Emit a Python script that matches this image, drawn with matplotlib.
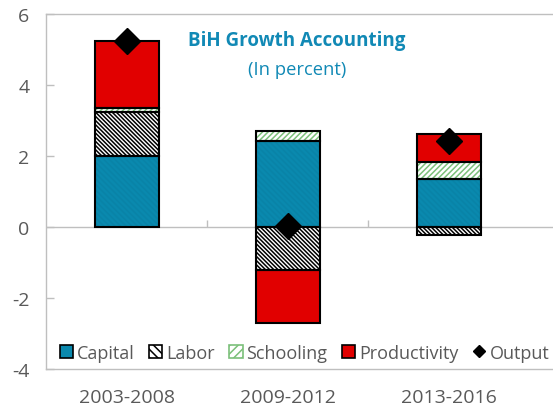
import numpy as np
import matplotlib.pyplot as plt
from matplotlib.patches import Patch
from matplotlib.lines import Line2D

plt.rcParams['font.family'] = ['Open Sans', 'DejaVu Sans']
plt.rcParams['hatch.linewidth'] = 1.1

periods = ['2003-2008', '2009-2012', '2013-2016']
capital = [2.00, 2.43, 1.34]
labor = [1.25, -1.20, -0.22]
schooling = [0.10, 0.28, 0.50]
productivity = [1.90, -1.50, 0.79]
output = [5.25, 0.02, 2.42]

TEAL = '#0a89ae'
RED = '#e10000'
GRID = '#bfbfbf'

fig = plt.figure(figsize=(5.53, 4.10), dpi=100)
ax = fig.add_axes([0.0832, 0.0976, 0.9168, 0.8658])

x = np.arange(len(periods))
w = 0.40

# positive and negative parts stack separately
series = [
    (capital, TEAL, '#0983a7', '\\\\\\\\\\\\'),
    (labor, 'white', 'black', '\\\\\\\\\\\\\\\\'),
    (schooling, 'white', '#7cc07a', '//////'),
    (productivity, RED, RED, None),
]
pos = np.zeros(len(periods))
neg = np.zeros(len(periods))
for vals, fc, hc, hatch in series:
    vals = np.array(vals)
    bottom = np.where(vals >= 0, pos, neg)
    ax.bar(x, vals, w, bottom=bottom, color=fc, edgecolor=hc, hatch=hatch,
           linewidth=0, zorder=2)
    ax.bar(x, vals, w, bottom=bottom, fill=False, edgecolor='black',
           linewidth=1.5, zorder=3)
    pos = np.where(vals >= 0, pos + vals, pos)
    neg = np.where(vals < 0, neg + vals, neg)

ax.plot(x, output, 'D', color='black', markersize=13.5, linestyle='none', zorder=4)

ax.axhline(0, color=GRID, linewidth=1, zorder=1)
ax.vlines([0.5, 1.5], 0, 0.2, color=GRID, linewidth=1, zorder=1)

ax.set_ylim(-4, 6)
ax.set_xlim(-0.503, 2.646)
ax.set_yticks([-4, -2, 0, 2, 4, 6])
ax.set_yticklabels(['-4', '-2', '0', '2', '4', '6'])
ax.set_xticks(x)
ax.set_xticklabels(periods)
ax.tick_params(axis='x', length=0, pad=14, labelsize=14, labelcolor='#595959')
ax.tick_params(axis='y', direction='in', length=6, width=1, color=GRID, pad=12,
               labelsize=14, labelcolor='#595959')

for side in ['top', 'left', 'bottom']:
    ax.spines[side].set_color(GRID)
    ax.spines[side].set_linewidth(1)
ax.spines['right'].set_visible(False)

ax.text(0.495, 0.928, 'BiH Growth Accounting', transform=ax.transAxes,
        ha='center', va='center', fontsize=13.5, fontweight='bold', color='#1189b5')
ax.text(0.495, 0.845, '(In percent)', transform=ax.transAxes,
        ha='center', va='center', fontsize=13.2, color='#1189b5')

handles = [
    Patch(facecolor=TEAL, edgecolor='black', linewidth=1.2),
    Patch(facecolor='white', edgecolor='black', hatch='\\\\\\\\', linewidth=1.2),
    Patch(facecolor='white', edgecolor='#7cc07a', hatch='////', linewidth=1.2),
    Patch(facecolor=RED, edgecolor='black', linewidth=1.2),
    Line2D([], [], marker='D', color='black', linestyle='none', markersize=6.5),
]
labels = ['Capital', 'Labor', 'Schooling', 'Productivity', 'Output']
leg = ax.legend(handles, labels, loc='lower center', bbox_to_anchor=(0.51, -0.015),
                ncol=5, frameon=False, fontsize=13, handlelength=0.75,
                handleheight=0.75, handletextpad=0.2, columnspacing=0.8,
                labelcolor='#595959', borderaxespad=0.3)

fig.savefig('out.png', dpi=100)
